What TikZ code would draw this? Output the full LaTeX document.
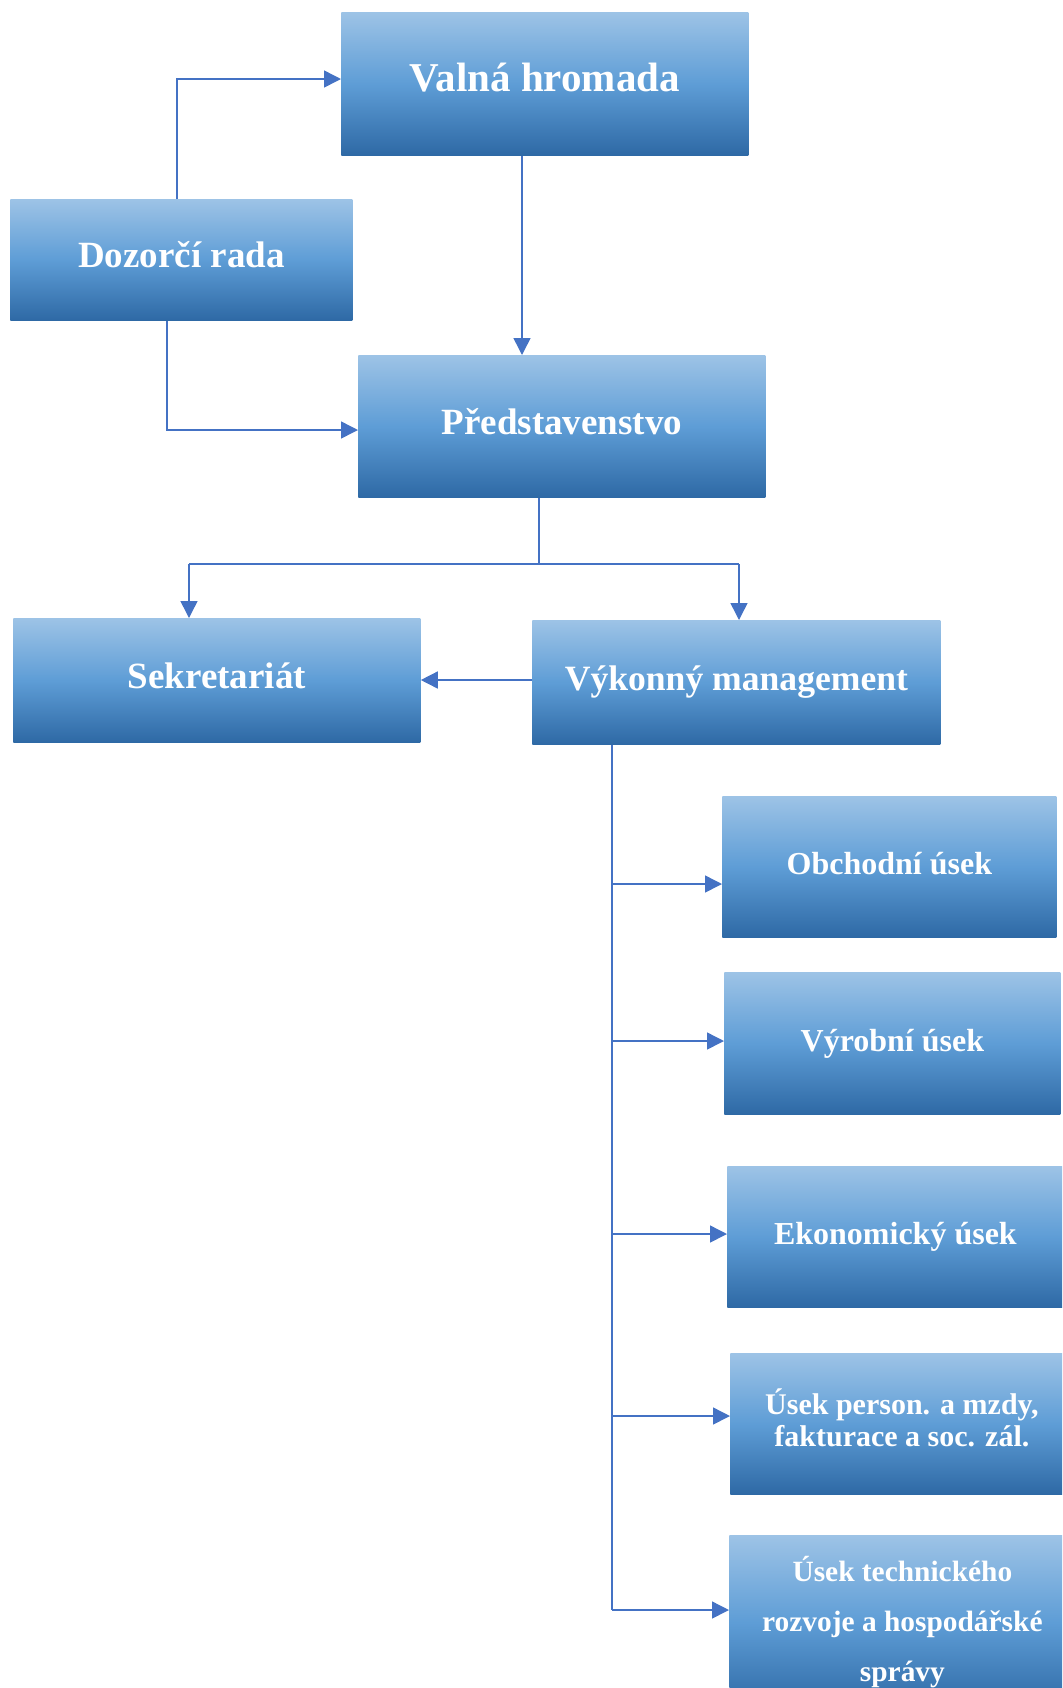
\documentclass[tikz,border=0pt]{standalone}
\usepackage{fontspec}
\setmainfont{Liberation Serif}
\usetikzlibrary{arrows.meta}
\definecolor{boxtop}{HTML}{9DC3E6}
\definecolor{boxmid}{HTML}{5E9DD6}
\definecolor{boxbot}{HTML}{2E69A5}
\definecolor{link}{HTML}{4472C4}
\newcommand{\fsz}[2]{\fontsize{#1}{#2}\selectfont\bfseries}
\tikzset{
  x=0.5pt, y=-0.5pt,
  unit/.style 2 args={draw=none, top color=boxtop, bottom color=boxbot,
    middle color=boxmid, inner sep=0pt, anchor=north west, text=white,
    align=center, minimum width=#1*0.5pt, minimum height=#2*0.5pt},
  oneline/.style={text height=10pt, text depth=2.4pt},
  plain/.style={draw=link, line width=0.75pt},
  conn/.style={plain, -{Triangle[length=8.5pt,width=8.5pt]}},
}
\begin{document}
\begin{tikzpicture}
\useasboundingbox (0,0) rectangle (1062,1688);
\clip (0,0) rectangle (1062,1688);

% boxes
\node[unit={407}{143}, font=\fsz{20.5}{24}, oneline] (vh) at (341,12) {Valná hromada};
\node[unit={342}{121}, font=\fsz{18.5}{22}, oneline] (dr) at (10,199) {Dozorčí rada};
\node[unit={407}{142}, font=\fsz{18.5}{22}, oneline] (ps) at (358,355) {Představenstvo};
\node[unit={407}{124}, font=\fsz{18.5}{22}, oneline] (sk) at (13,618) {Sekretariát};
\node[unit={408}{124}, font=\fsz{17.8}{22}, oneline] (vm) at (532,620) {Výkonný management};
\node[unit={334}{141}, font=\fsz{16}{19}, oneline] (ob) at (722,796) {Obchodní úsek};
\node[unit={336}{142}, font=\fsz{16}{19}, oneline] (vy) at (724,972) {Výrobní úsek};
\node[unit={336}{141}, font=\fsz{16}{19}, oneline] (ek) at (727,1166) {Ekonomický úsek};
\node[unit={343}{141}, font=\fsz{15}{16}] (up) at (730,1353)
  {Úsek person. a mzdy,\\fakturace a soc. zál.\rule[-6pt]{0pt}{0pt}};
\node[unit={346}{174}, font=\fsz{14.7}{25}] (ut) at (729,1535)
  {Úsek technického\\rozvoje a hospodářské\\správy};

% bend and branch points
\coordinate (k1) at (177,79);
\coordinate (k2) at (522,0);
\coordinate (k3) at (167,430);
\coordinate (k4) at (539,564);
\coordinate (k5) at (189,564);
\coordinate (k6) at (739,564);
\coordinate (k7) at (0,680);
\coordinate (t0) at (612,0);
\coordinate (t1) at (612,884);
\coordinate (t2) at (612,1041);
\coordinate (t3) at (612,1234);
\coordinate (t4) at (612,1416);
\coordinate (t5) at (612,1610);

% connectors
\draw[conn] (k1 |- dr.north) -- (k1) -- (k1 -| vh.west);
\draw[conn] (k2 |- vh.south) -- (k2 |- ps.north);
\draw[conn] (k3 |- dr.south) -- (k3) -- (k3 -| ps.west);
\draw[plain] (k4 |- ps.south) -- (k4);
\draw[plain] (k5) -- (k6);
\draw[conn] (k5) -- (k5 |- sk.north);
\draw[conn] (k6) -- (k6 |- vm.north);
\draw[conn] (k7 -| vm.west) -- (k7 -| sk.east);
\draw[plain] (t0 |- vm.south) -- (t5);
\draw[conn] (t1) -- (t1 -| ob.west);
\draw[conn] (t2) -- (t2 -| vy.west);
\draw[conn] (t3) -- (t3 -| ek.west);
\draw[conn] (t4) -- (t4 -| up.west);
\draw[conn] (t5) -- (t5 -| ut.west);
\end{tikzpicture}
\end{document}
